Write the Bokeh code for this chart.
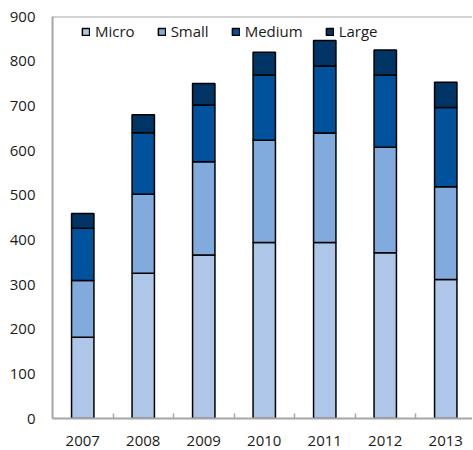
from bokeh.plotting import figure
from bokeh.models import ColumnDataSource, FixedTicker, Span, Range1d
from bokeh.embed import file_html
from bokeh.resources import INLINE

years = ["2007", "2008", "2009", "2010", "2011", "2012", "2013"]
micro = [182, 325, 366, 394, 394, 371, 311]
small = [127, 177, 209, 229, 245, 236, 208]
medium = [117, 138, 127, 146, 150, 162, 177]
large = [33, 40, 48, 51, 57, 56, 57]

series = ["Micro", "Small", "Medium", "Large"]
colors = ["#aec7e8", "#80abdc", "#00529c", "#003464"]

xs = list(range(len(years)))
source = ColumnDataSource(data=dict(x=xs, Micro=micro, Small=small, Medium=medium, Large=large))

FONT = "Open Sans"

p = figure(width=472, height=449, output_backend="svg", toolbar_location=None,
           x_range=Range1d(-0.5, 6.442), y_range=Range1d(0, 900),
           min_border_left=52, min_border_right=0, min_border_top=16, min_border_bottom=31)
p.outline_line_color = None
p.xgrid.grid_line_color = None
p.ygrid.grid_line_color = None

p.vbar_stack(series, x="x", width=0.37, source=source, color=colors,
             line_color="black", line_width=1.5, legend_label=series)

p.xaxis.ticker = FixedTicker(ticks=xs, minor_ticks=[i + 0.5 for i in range(len(years) - 1)])
p.xaxis.major_label_overrides = {i: y for i, y in enumerate(years)}
p.xaxis.major_tick_line_color = None
p.xaxis.minor_tick_in = 5
p.xaxis.minor_tick_out = 0
p.xaxis.minor_tick_line_color = "#a6a6a6"
p.xaxis.minor_tick_line_width = 1.5

p.yaxis.ticker = FixedTicker(ticks=list(range(0, 901, 100)))
p.yaxis.major_tick_line_color = None
p.yaxis.minor_tick_line_color = None

for ax in (p.xaxis[0], p.yaxis[0]):
    ax.axis_line_color = "#a6a6a6"
    ax.axis_line_width = 2
    ax.major_label_text_font = FONT
    ax.major_label_text_font_size = "15px"
    ax.major_label_text_color = "#1a1a1a"
    ax.major_label_standoff = 11

p.add_layout(Span(location=900, dimension="width", line_color="#a6a6a6", line_width=2))

leg = p.legend[0]
leg.orientation = "horizontal"
leg.location = (29, 377)
leg.background_fill_alpha = 0
leg.border_line_color = None
leg.padding = 0
leg.margin = 0
leg.spacing = 22
leg.glyph_width = 9
leg.glyph_height = 9
leg.label_standoff = 5
leg.label_text_font = FONT
leg.label_text_font_size = "15px"
leg.label_text_color = "#1a1a1a"

open("out.html", "w").write(file_html(p, INLINE))
